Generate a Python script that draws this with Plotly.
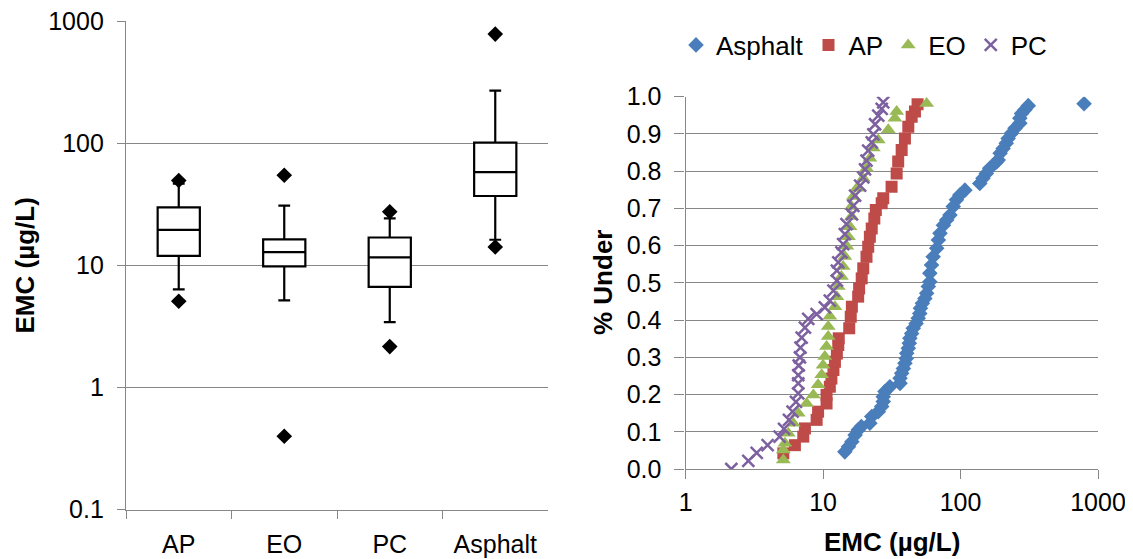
import plotly.graph_objects as go

# ---------------- data: box plot (left) ----------------
box_cats = ["AP", "EO", "PC", "Asphalt"]
box_q1 = [12.0, 9.85, 6.7, 37.2]
box_median = [19.6, 12.9, 11.7, 58.4]
box_q3 = [30.0, 16.4, 17.0, 102.0]
box_lower = [6.4, 5.2, 3.45, 16.3]
box_upper = [47.0, 31.0, 24.4, 272.0]
out_cats = ["AP", "AP", "EO", "EO", "PC", "PC", "Asphalt", "Asphalt"]
out_vals = [49.9, 5.1, 55.0, 0.40, 27.6, 2.17, 789.0, 14.2]

# ---------------- data: cumulative distributions (right) ----------------
asph_emc = [14.4, 15.3, 16.2, 17.1, 18.0, 19.0, 21.9, 22.6, 25.2, 26.7, 27.4, 27.4, 28.2, 30.6,
            36.3, 36.3, 37.3, 38.4, 39.4, 40.3, 40.6, 41.7, 42.4, 42.8, 44.1, 45.3, 47.5, 49.2,
            50.5, 51.1, 52.8, 55.0, 56.7, 58.3, 59.8, 59.8, 61.5, 63.2, 67.1, 69.0, 70.9, 75.1,
            79.3, 83.8, 88.5, 93.4, 98.8, 107.6, 138.0, 145.6, 154.0, 163.0, 183.0, 188.0, 194.0,
            204.0, 215.0, 222.0, 235.0, 249.0, 270.0, 270.0, 278.0, 294.0, 311.0, 792.0]
asph_p = [0.046, 0.060, 0.073, 0.091, 0.105, 0.114, 0.123, 0.141, 0.154, 0.168, 0.181, 0.194, 0.208, 0.221,
          0.230, 0.244, 0.257, 0.270, 0.284, 0.297, 0.311, 0.324, 0.338, 0.351, 0.364, 0.378, 0.391, 0.405,
          0.418, 0.432, 0.445, 0.458, 0.472, 0.490, 0.503, 0.526, 0.548, 0.570, 0.593, 0.615, 0.633, 0.655,
          0.669, 0.682, 0.705, 0.723, 0.736, 0.749, 0.767, 0.781, 0.794, 0.808, 0.825, 0.830, 0.848,
          0.861, 0.875, 0.888, 0.902, 0.915, 0.929, 0.942, 0.955, 0.965, 0.976, 0.981]

ap_emc = [5.14, 6.24, 7.18, 7.38, 8.98, 9.2, 10.6, 10.6, 11.2, 11.5, 11.9, 12.2, 12.6, 12.9,
          13.0, 15.5, 15.9, 16.2, 18.0, 18.3, 19.1, 19.6, 20.7, 21.3, 21.9, 22.6, 23.6, 24.2,
          26.7, 27.4, 31.5, 34.3, 35.2, 37.3, 39.4, 41.7, 44.1, 46.6, 48.7]
ap_p = [0.042, 0.064, 0.087, 0.109, 0.132, 0.154, 0.176, 0.199, 0.221, 0.243, 0.266, 0.288, 0.310, 0.333,
        0.351, 0.378, 0.409, 0.436, 0.463, 0.485, 0.512, 0.539, 0.570, 0.597, 0.624, 0.646, 0.673, 0.696,
        0.714, 0.727, 0.758, 0.794, 0.826, 0.857, 0.888, 0.919, 0.946, 0.960, 0.980]

eo_emc = [5.14, 5.14, 5.28, 5.58, 6.07, 6.6, 7.6, 8.5, 9.2, 9.77, 10.0, 10.3, 10.6, 10.9, 10.9,
          11.2, 12.2, 12.6, 12.9, 13.6, 14.0, 14.4, 14.9, 15.3, 15.7, 16.1, 16.1, 16.6, 17.6,
          19.6, 20.7, 21.9, 23.2, 25.2, 29.8, 33.3, 34.3, 56.7]
eo_p = [0.024, 0.051, 0.069, 0.096, 0.123, 0.150, 0.176, 0.199, 0.226, 0.253, 0.279, 0.302, 0.329, 0.356, 0.383,
        0.410, 0.436, 0.463, 0.490, 0.517, 0.544, 0.571, 0.598, 0.624, 0.651, 0.678, 0.705, 0.732, 0.754,
        0.781, 0.808, 0.835, 0.862, 0.884, 0.911, 0.942, 0.960, 0.982]

pc_emc = [2.15, 2.86, 3.29, 3.95, 4.83, 5.2, 5.65, 6.0, 6.35, 6.6, 6.6, 6.6, 6.65, 6.79, 6.85,
          6.99, 7.38, 7.8, 8.98, 10.3, 11.2, 11.9, 12.6, 12.6, 12.9, 13.6, 14.0, 14.4, 14.8,
          16.2, 16.6, 17.1, 18.6, 19.6, 20.2, 20.7, 21.3, 22.6, 23.2, 23.9, 25.2, 26.7, 27.4]
pc_p = [0.0, 0.022, 0.043, 0.064, 0.087, 0.108, 0.132, 0.154, 0.180, 0.203, 0.230, 0.252, 0.278, 0.300, 0.326,
        0.353, 0.380, 0.403, 0.416, 0.434, 0.452, 0.479, 0.506, 0.533, 0.555, 0.582, 0.604, 0.631, 0.658,
        0.684, 0.707, 0.734, 0.761, 0.783, 0.805, 0.828, 0.855, 0.877, 0.899, 0.926, 0.949, 0.967, 0.985]

p_ticks = [0.0, 0.1, 0.2, 0.3, 0.4, 0.5, 0.6, 0.7, 0.8, 0.9, 1.0]

# ---------------- styling ----------------
FONT = "Liberation Sans, Arial, sans-serif"
GRID = "#878787"
OFF = 8                      # page body margin
W, H = 1133 - OFF, 559 - OFF


def fx(px):
    return (px - OFF) / W


def fy(py):
    return (H - (py - OFF)) / H


fig = go.Figure()

# boxes
for i, c in enumerate(box_cats):
    fig.add_trace(go.Box(
        x=[c], q1=[box_q1[i]], median=[box_median[i]], q3=[box_q3[i]],
        lowerfence=[box_lower[i]], upperfence=[box_upper[i]],
        boxpoints=False, fillcolor="white", width=0.4, whiskerwidth=0.28,
        line=dict(color="black", width=2.2), showlegend=False, hoverinfo="skip",
        xaxis="x", yaxis="y"))

fig.add_trace(go.Scatter(
    x=out_cats, y=out_vals, mode="markers",
    marker=dict(symbol="diamond", size=12, color="black"),
    showlegend=False, xaxis="x", yaxis="y"))

# cumulative distributions
fig.add_trace(go.Scatter(x=asph_emc, y=asph_p, mode="markers", name="Asphalt",
                         marker=dict(symbol="diamond", size=12, color="#4A7EBB"),
                         xaxis="x2", yaxis="y2"))
fig.add_trace(go.Scatter(x=ap_emc, y=ap_p, mode="markers", name="AP",
                         marker=dict(symbol="square", size=12, color="#BE4B48"),
                         xaxis="x2", yaxis="y2"))
fig.add_trace(go.Scatter(x=eo_emc, y=eo_p, mode="markers", name="EO",
                         marker=dict(symbol="triangle-up", size=13, color="#98B954"),
                         xaxis="x2", yaxis="y2"))
fig.add_trace(go.Scatter(x=pc_emc, y=pc_p, mode="markers", name="PC",
                         marker=dict(symbol="x-thin", size=12, color="#7D60A0",
                                     line=dict(width=2.5, color="#7D60A0")),
                         xaxis="x2", yaxis="y2"))

tickfont = dict(family=FONT, size=25, color="black")
titlefont = dict(family=FONT, size=26, color="black")

fig.update_layout(
    width=W, height=H, autosize=False,
    margin=dict(l=0, r=0, t=0, b=0),
    paper_bgcolor="white", plot_bgcolor="white",
    font=dict(family=FONT, color="black"),
    xaxis=dict(domain=[fx(126), fx(548)], anchor="y", type="category",
               categoryorder="array", categoryarray=box_cats, range=[-0.5, 3.5],
               showline=True, linecolor=GRID, linewidth=1.3,
               ticks="outside", ticklen=8, tickcolor=GRID, tickwidth=1.3,
               tickson="boundaries", showgrid=False, tickfont=tickfont,
               ticklabelstandoff=12, ticklabeloverflow="allow", automargin=False),
    yaxis=dict(domain=[fy(509.7), fy(21.3)], anchor="x", type="log",
               range=[-1, 3.002], tickvals=[0.1, 1, 10, 100, 1000],
               ticktext=["0.1", "1", "10", "100", "1000"],
               showline=True, linecolor=GRID, linewidth=1.3,
               ticks="outside", ticklen=8, tickcolor=GRID, tickwidth=1.3,
               showgrid=True, gridcolor=GRID, gridwidth=1.3, zeroline=False,
               tickfont=tickfont, ticklabelstandoff=8, ticklabeloverflow="allow",
               automargin=False),
    xaxis2=dict(domain=[fx(685.6), fx(1098)], anchor="y2", type="log",
                range=[0, 3], tickvals=[1, 10, 100, 1000],
                ticktext=["1", "10", "100", "1000"],
                showline=True, linecolor=GRID, linewidth=1.3,
                ticks="outside", ticklen=9, tickcolor=GRID, tickwidth=1.3,
                showgrid=False, tickfont=tickfont, ticklabelstandoff=2,
                ticklabeloverflow="allow", automargin=False),
    yaxis2=dict(domain=[fy(469), fy(96.7)], anchor="x2",
                range=[0, 1.0], tickvals=p_ticks, tickformat=".1f",
                showline=True, linecolor=GRID, linewidth=1.3,
                ticks="outside", ticklen=10, tickcolor=GRID, tickwidth=1.3,
                showgrid=True, gridcolor=GRID, gridwidth=1.3, zeroline=False,
                tickfont=tickfont, ticklabelstandoff=8, ticklabeloverflow="allow",
                automargin=False),
    legend=dict(orientation="h", x=fx(676), xanchor="left", y=fy(45), yanchor="middle",
                font=dict(family=FONT, size=26, color="black"),
                itemwidth=30, tracegroupgap=0, bgcolor="rgba(0,0,0,0)"),
    annotations=[
        dict(text="<b>EMC (µg/L)</b>", x=fx(24), y=fy(265.5), xref="paper", yref="paper",
             textangle=-90, showarrow=False, font=titlefont,
             xanchor="center", yanchor="middle"),
        dict(text="<b>% Under</b>", x=fx(603), y=fy(283), xref="paper", yref="paper",
             textangle=-90, showarrow=False, font=titlefont,
             xanchor="center", yanchor="middle"),
        dict(text="<b>EMC (µg/L)</b>", x=fx(892), y=fy(541.5), xref="paper", yref="paper",
             showarrow=False, font=titlefont,
             xanchor="center", yanchor="middle"),
    ],
)

fig.write_html("out.html")
